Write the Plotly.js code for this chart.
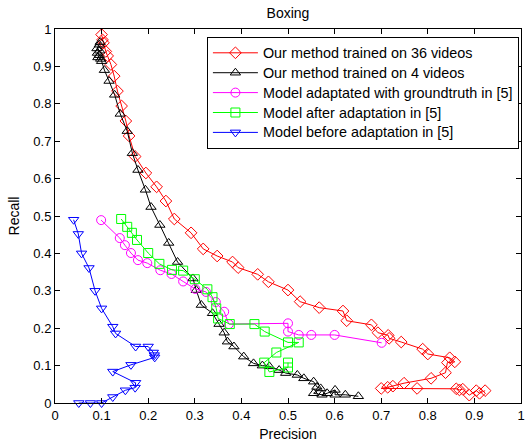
<!DOCTYPE html>
<html>
<head>
<meta charset="utf-8">
<script src="https://cdn.plot.ly/plotly-3.0.1.min.js"></script>
<style>html,body{margin:0;padding:0;background:#fff;}#chart{width:531px;height:445px;}</style>
</head>
<body>
<div id="chart"></div>
<script>
// Our method trained on 36 videos
const redX = [0.100,0.102,0.104,0.109,0.113,0.120,0.127,0.134,0.143,0.152,0.159,0.172,0.195,0.218,0.238,0.256,0.292,0.318,0.348,0.381,0.393,0.435,0.458,0.500,0.526,0.567,0.618,0.626,0.679,0.693,0.715,0.717,0.743,0.789,0.800,0.847,0.858,0.842,0.838,0.807,0.749,0.725,0.714,0.700,0.777,0.861,0.868,0.875,0.889,0.904,0.911,0.923];
const redY = [0.985,0.971,0.963,0.940,0.928,0.905,0.874,0.834,0.794,0.754,0.714,0.659,0.615,0.578,0.540,0.492,0.455,0.412,0.393,0.377,0.362,0.344,0.324,0.302,0.271,0.255,0.246,0.220,0.209,0.188,0.181,0.173,0.163,0.144,0.131,0.121,0.110,0.108,0.081,0.066,0.053,0.045,0.042,0.039,0.039,0.038,0.035,0.037,0.021,0.033,0.026,0.033];

// Our method trained on 4 videos
const blackX = [0.097,0.095,0.090,0.096,0.091,0.095,0.092,0.098,0.100,0.106,0.116,0.128,0.140,0.155,0.166,0.178,0.194,0.206,0.225,0.244,0.263,0.296,0.303,0.314,0.338,0.352,0.363,0.370,0.384,0.405,0.426,0.445,0.460,0.481,0.495,0.520,0.534,0.555,0.562,0.570,0.555,0.573,0.584,0.601,0.601,0.623,0.651];
const blackY = [0.965,0.958,0.948,0.942,0.936,0.930,0.924,0.920,0.914,0.890,0.861,0.824,0.773,0.727,0.668,0.623,0.570,0.524,0.476,0.428,0.377,0.333,0.302,0.262,0.240,0.211,0.188,0.164,0.151,0.124,0.106,0.100,0.098,0.088,0.080,0.075,0.066,0.057,0.043,0.039,0.026,0.022,0.026,0.035,0.022,0.022,0.018];

// Model adaptated with groundtruth in [5]
const magX = [0.099,0.139,0.150,0.163,0.178,0.198,0.226,0.250,0.275,0.301,0.324,0.345,0.363,0.373,0.500,0.500,0.523,0.550,0.600,0.701];
const magY = [0.489,0.441,0.422,0.401,0.382,0.374,0.355,0.345,0.325,0.305,0.297,0.270,0.244,0.211,0.213,0.191,0.182,0.182,0.182,0.161];

// Model after adaptation in [5]
const greenX = [0.142,0.155,0.165,0.176,0.200,0.224,0.251,0.275,0.300,0.327,0.338,0.346,0.350,0.375,0.428,0.450,0.500,0.523,0.475,0.449,0.460,0.500,0.500];
const greenY = [0.492,0.471,0.455,0.436,0.401,0.372,0.356,0.354,0.331,0.304,0.283,0.253,0.226,0.211,0.211,0.191,0.162,0.162,0.135,0.108,0.083,0.095,0.108];

// Model before adaptation in [5]
const blueX = [0.040,0.050,0.057,0.073,0.086,0.100,0.124,0.130,0.173,0.200,0.211,0.213,0.214,0.163,0.124,0.173,0.172,0.151,0.124,0.100,0.076,0.051];
const blueY = [0.490,0.452,0.400,0.361,0.300,0.253,0.204,0.186,0.151,0.151,0.135,0.128,0.122,0.102,0.084,0.054,0.041,0.034,0.016,0.000,0.000,0.000];

const seriesNames = ["Our method trained on 36 videos","Our method trained on 4 videos","Model adaptated with groundtruth in [5]","Model after adaptation in [5]","Model before adaptation in [5]"];
const tickVals = [0,0.1,0.2,0.3,0.4,0.5,0.6,0.7,0.8,0.9,1];
const tickText = ["0","0.1","0.2","0.3","0.4","0.5","0.6","0.7","0.8","0.9","1"];

const FONT = "Liberation Sans, Arial, Helvetica, sans-serif";

function tr(x, y, name, color, symbol, size) {
  return {
    x: x, y: y, name: '<span style="font-size:14.4px">' + name + '</span>',
    type: "scatter", mode: "lines+markers",
    line: {color: color, width: 1},
    marker: {symbol: symbol, size: size, color: color, line: {color: color, width: 1}},
    cliponaxis: false
  };
}

const data = [
  tr(redX, redY, seriesNames[0], "#ff0000", "diamond-open", 9),
  tr(blackX, blackY, seriesNames[1], "#000000", "triangle-up-open", 9),
  tr(magX, magY, seriesNames[2], "#ff00ff", "circle-open", 9),
  tr(greenX, greenY, seriesNames[3], "#00ff00", "square-open", 9),
  tr(blueX, blueY, seriesNames[4], "#0000ff", "triangle-down-open", 9)
];

const axisCommon = {
  range: [0, 1], tickvals: tickVals, ticktext: tickText,
  ticks: "inside", ticklen: 5, tickwidth: 1, tickcolor: "#000",
  showline: true, linecolor: "#000", linewidth: 1, mirror: "allticks",
  showgrid: false, zeroline: false, fixedrange: true,
  tickfont: {family: FONT, size: 13, color: "#000"}
};

const layout = {
  width: 531, height: 445,
  margin: {l: 55, r: 10, t: 29, b: 42},
  paper_bgcolor: "#fff", plot_bgcolor: "#fff",
  font: {family: FONT, color: "#000"},
  title: {text: "Boxing", font: {family: FONT, size: 14, color: "#000"}, x: 0.5, xref: "paper", y: 1 - 13/445, yanchor: "middle"},
  xaxis: Object.assign({}, axisCommon, {title: {text: "Precision", font: {family: FONT, size: 14, color: "#000"}, standoff: 7}}),
  yaxis: Object.assign({}, axisCommon, {title: {text: "Recall", font: {family: FONT, size: 14, color: "#000"}, standoff: 10}}),
  showlegend: true,
  legend: {
    x: 0.326, y: 0.979, xanchor: "left", yanchor: "top",
    bgcolor: "#fff", bordercolor: "#000", borderwidth: 1,
    font: {family: FONT, size: 13, color: "#000"},
    itemwidth: 45
  }
};

Plotly.newPlot("chart", data, layout, {staticPlot: true, displayModeBar: false});
</script>
</body>
</html>
